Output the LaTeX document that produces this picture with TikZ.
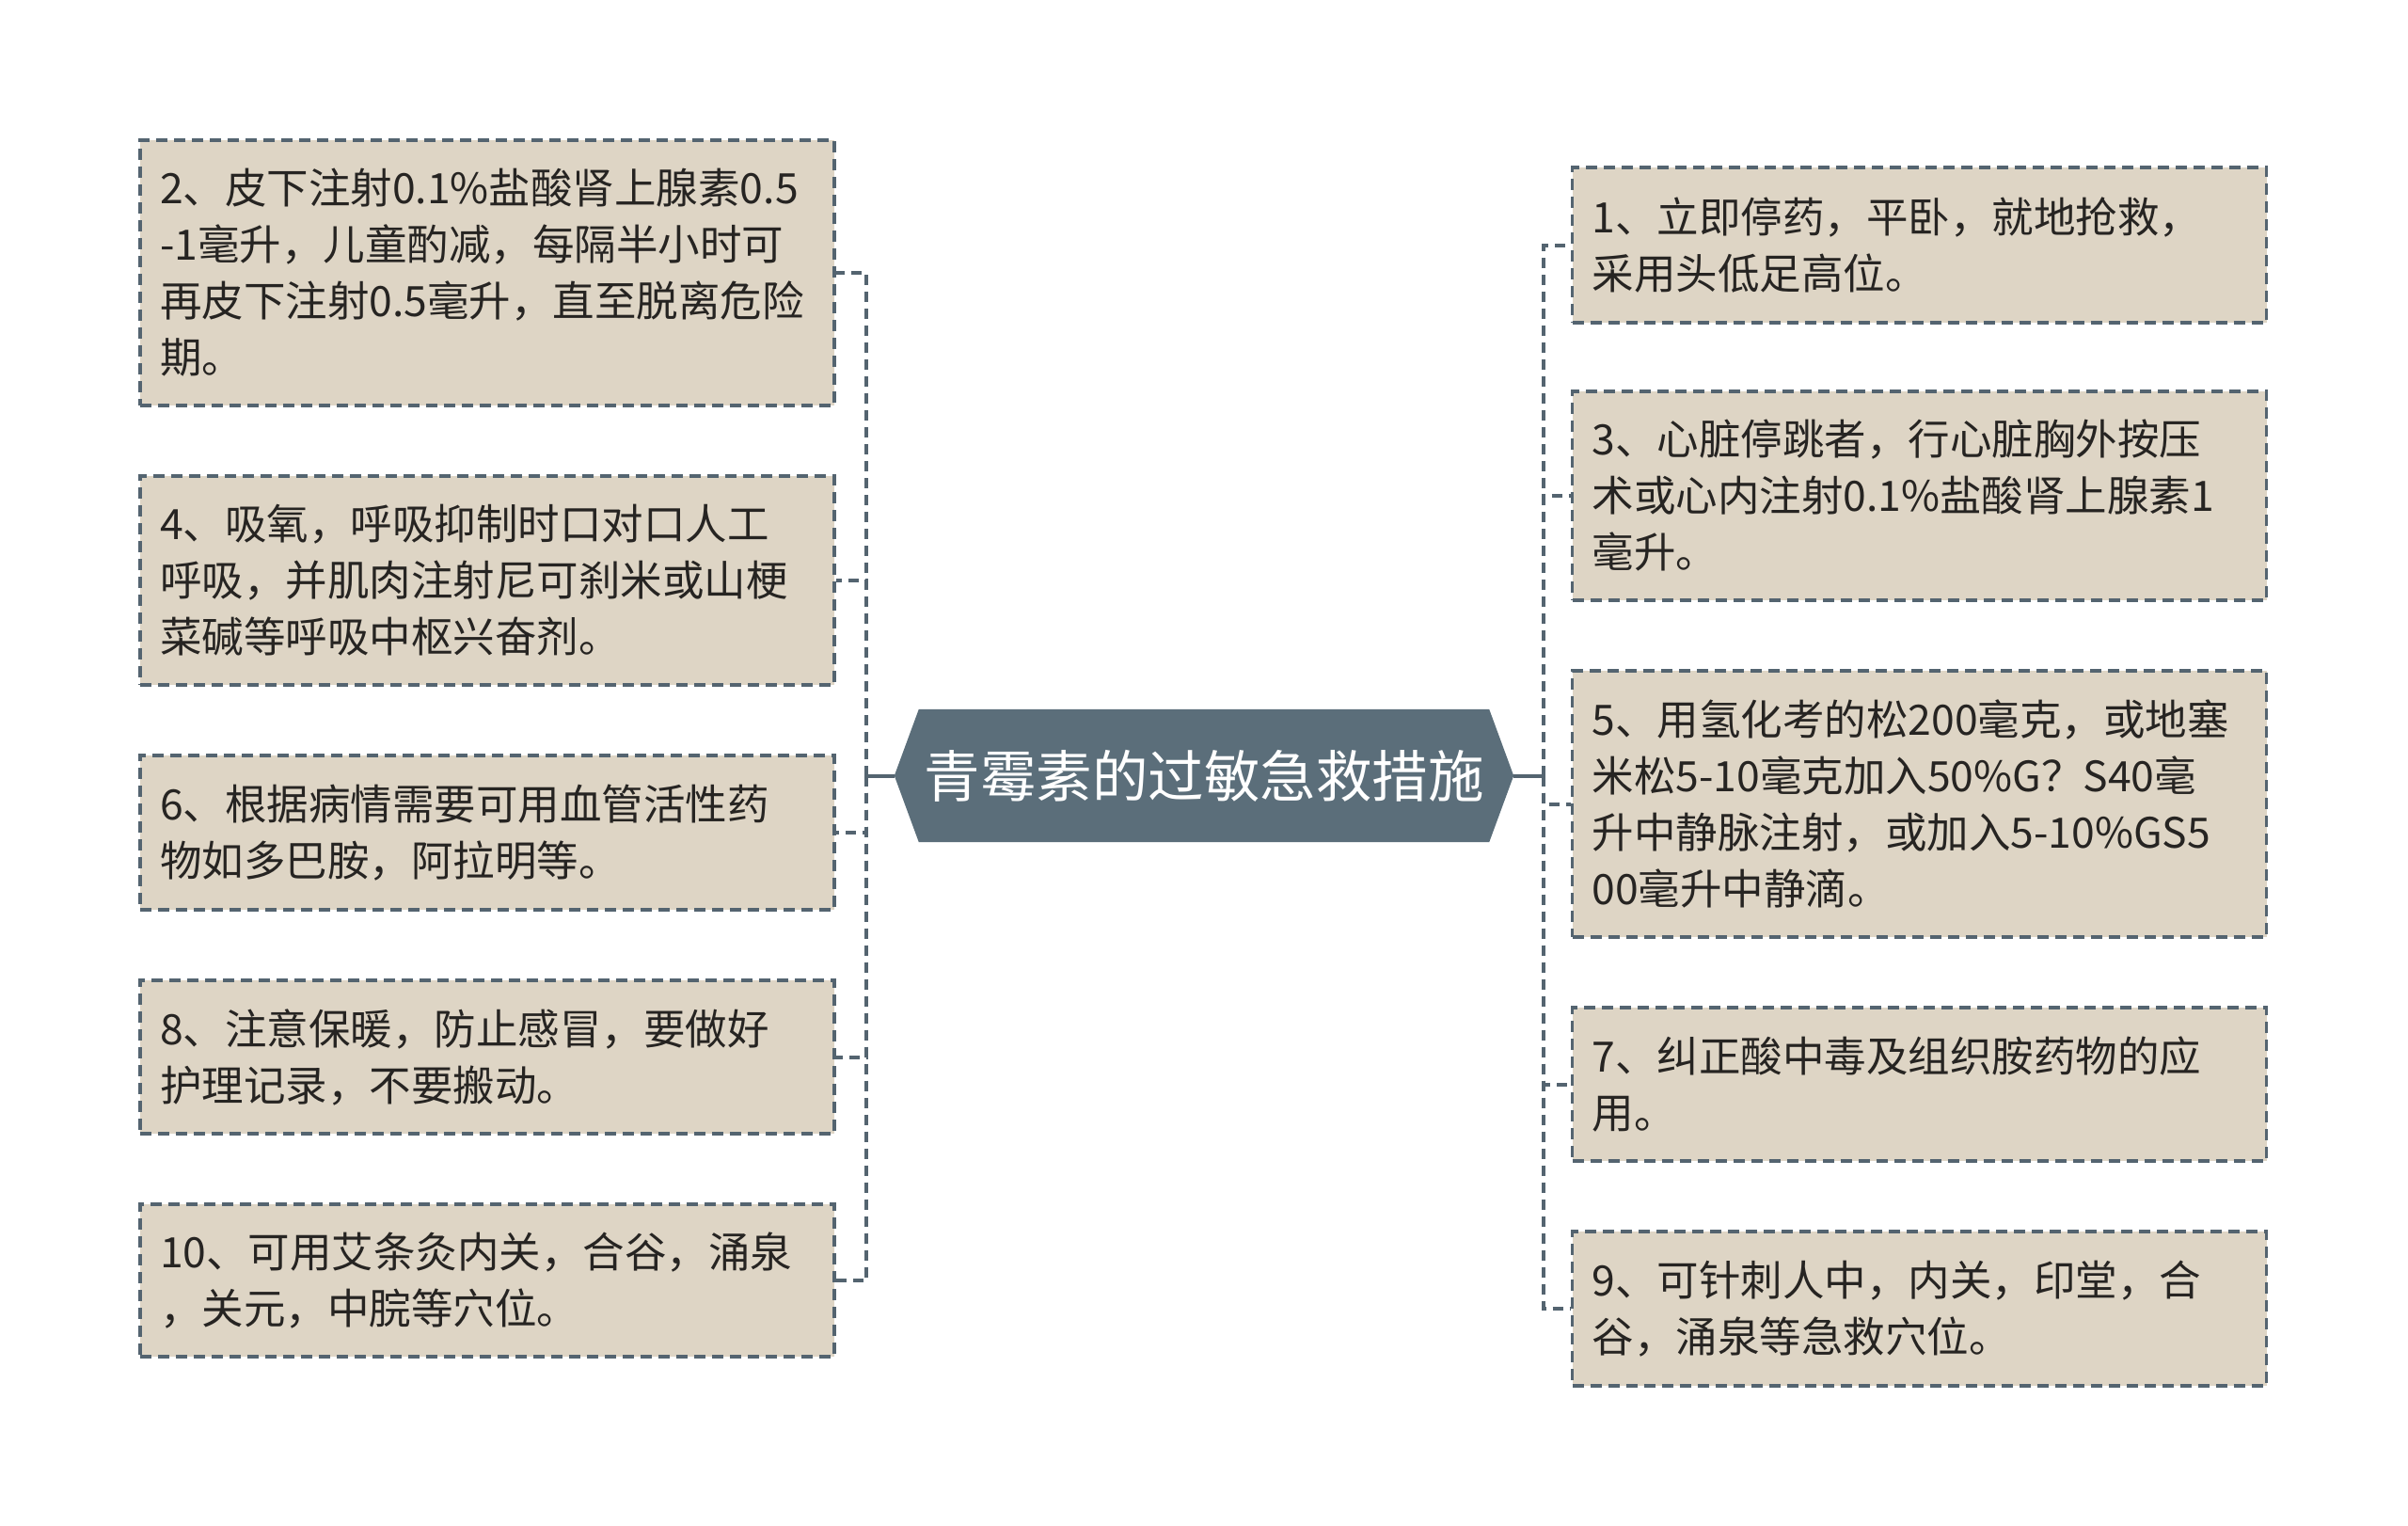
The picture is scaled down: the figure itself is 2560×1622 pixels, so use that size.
\documentclass[tikz,border=0pt]{standalone}
\usepackage{fontspec}
\setmainfont{Noto Sans CJK SC}
\usetikzlibrary{backgrounds}
\definecolor{boxfill}{RGB}{222,213,197}
\definecolor{edgecol}{RGB}{84,100,112}
\definecolor{centfill}{RGB}{91,110,122}
\definecolor{txtcol}{RGB}{38,36,34}
\tikzset{
  x=1pt,y=-1pt,
  itembox/.style={draw=edgecol, line width=3.2pt, dash pattern=on 12pt off 7pt, fill=boxfill,
    minimum width=738pt, text width=696pt, inner xsep=21pt, inner ysep=0pt, align=left,
    text=txtcol, font=\fontsize{44.5}{60}\selectfont},
  link/.style={draw=edgecol, line width=4pt, dash pattern=on 11pt off 7pt},
  stub/.style={draw=edgecol, line width=4pt},
}
\begin{document}
\begin{tikzpicture}
\useasboundingbox (0,0) rectangle (2560,1622);
% center
\node[minimum width=658pt, minimum height=141pt, inner sep=0pt, text=white,
  font=\fontsize{59.5}{60}\selectfont] (c) at (1280,824.5) {青霉素的过敏急救措施};
\begin{scope}[on background layer]
\fill[centfill] (c.west) -- ([xshift=26pt]c.north west) -- ([xshift=-26pt]c.north east)
  -- (c.east) -- ([xshift=-26pt]c.south east) -- ([xshift=26pt]c.south west) -- cycle;
\end{scope}
% left boxes
\node[itembox, minimum height=282pt] (b2) at (518,290) {2、皮下注射0.1\%盐酸肾上腺素0.5\\-1毫升，儿童酌减，每隔半小时可\\再皮下注射0.5毫升，直至脱离危险\\期。};
\node[itembox, minimum height=222pt] (b4) at (518,617) {4、吸氧，呼吸抑制时口对口人工\\呼吸，并肌肉注射尼可刹米或山梗\\菜碱等呼吸中枢兴奋剂。};
\node[itembox, minimum height=164pt] (b6) at (518,885) {6、根据病情需要可用血管活性药\\物如多巴胺，阿拉明等。};
\node[itembox, minimum height=163pt] (b8) at (518,1123.5) {8、注意保暖，防止感冒，要做好\\护理记录，不要搬动。};
\node[itembox, minimum height=162pt] (b10) at (518,1361) {10、可用艾条灸内关，合谷，涌泉\\，关元，中脘等穴位。};
% right boxes
\node[itembox, minimum height=165pt] (b1) at (2040.5,260.5) {1、立即停药，平卧，就地抢救，\\采用头低足高位。};
\node[itembox, minimum height=222pt] (b3) at (2040.5,527) {3、心脏停跳者，行心脏胸外按压\\术或心内注射0.1\%盐酸肾上腺素1\\毫升。};
\node[itembox, minimum height=283pt] (b5) at (2040.5,854.5) {5、用氢化考的松200毫克，或地塞\\米松5-10毫克加入50\%G？S40毫\\升中静脉注射，或加入5-10\%GS5\\00毫升中静滴。};
\node[itembox, minimum height=163pt] (b7) at (2040.5,1152.5) {7、纠正酸中毒及组织胺药物的应\\用。};
\node[itembox, minimum height=164pt] (b9) at (2040.5,1391) {9、可针刺人中，内关，印堂，合\\谷，涌泉等急救穴位。};
% junctions
\coordinate (jl) at (921,824.5);
\coordinate (jr) at (1641,824.5);
\draw[stub] (c.west) -- (jl);
\draw[stub] (c.east) -- (jr);
\foreach \b in {b2,b4,b6,b8,b10} { \draw[link] (jl) |- (\b.east); }
\foreach \b in {b1,b3,b5,b7,b9} { \draw[link] (jr) |- (\b.west); }
\end{tikzpicture}
\end{document}
